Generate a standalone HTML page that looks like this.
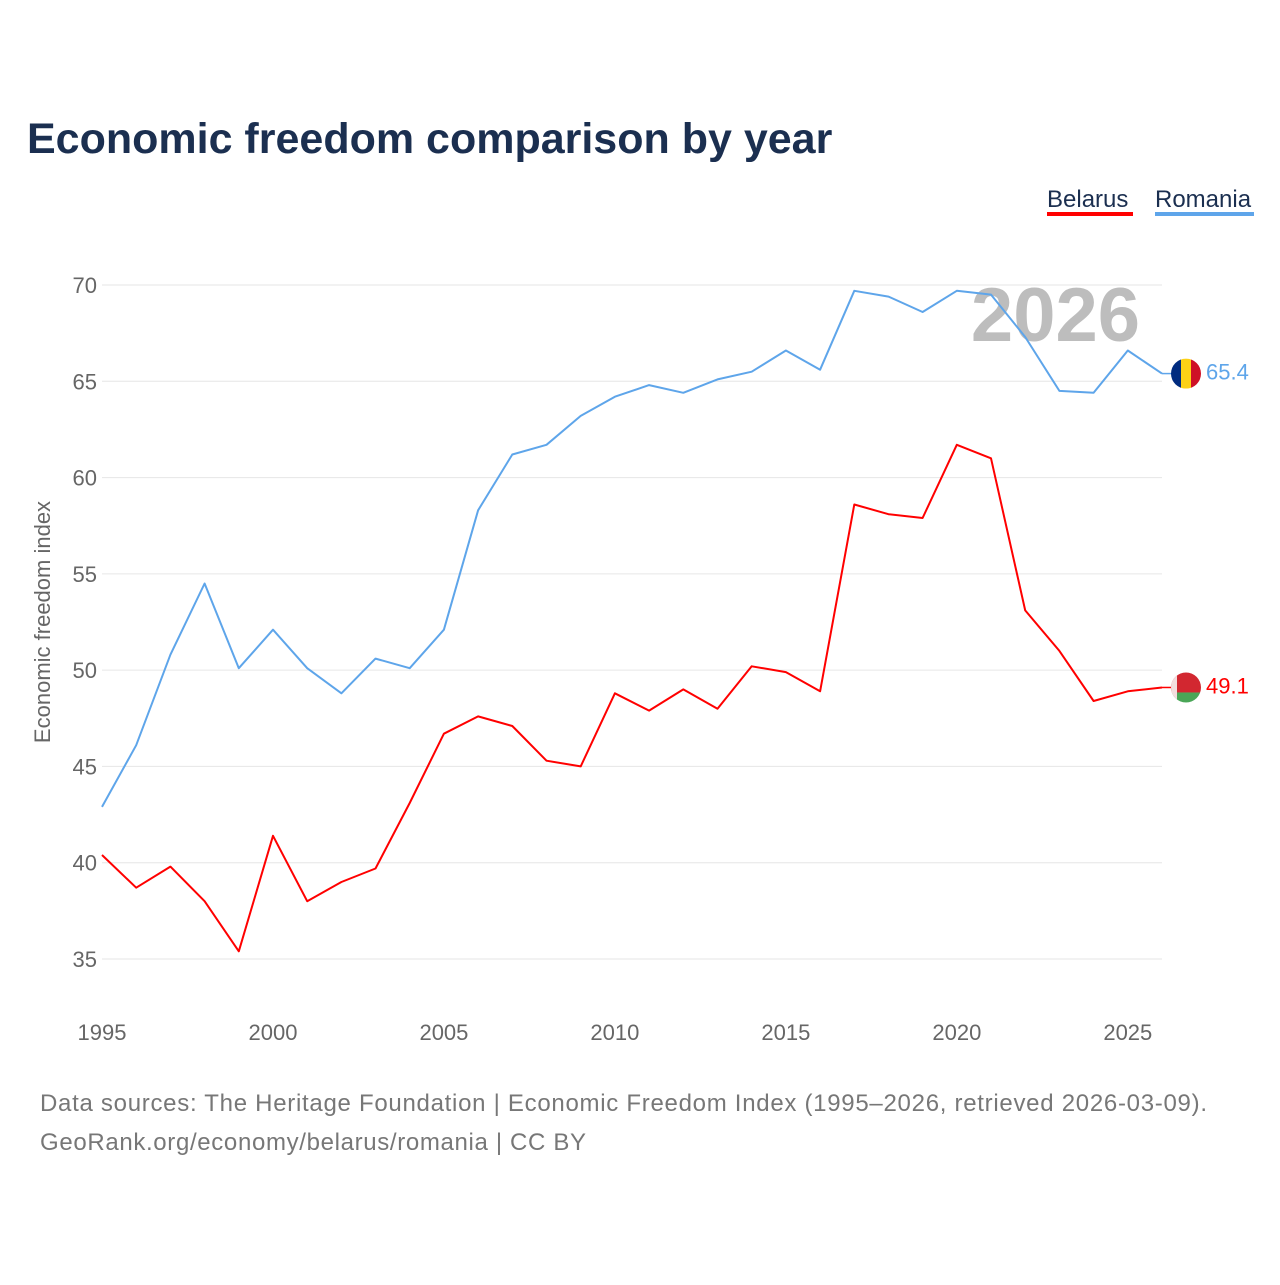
<!DOCTYPE html>
<html><head><meta charset="utf-8">
<style>
html,body{margin:0;padding:0;background:#fff;}
body{width:1280px;height:1280px;overflow:hidden;font-family:"Liberation Sans",sans-serif;}
</style></head>
<body>
<svg id="chart" width="1280" height="1280" xmlns="http://www.w3.org/2000/svg">
<text x="27" y="153" font-size="43" font-weight="bold" fill="#1b2f50">Economic freedom comparison by year</text>
<g>
<text x="1047" y="207" font-size="24" fill="#1b2f50">Belarus</text>
<rect x="1047" y="212" width="86" height="4" fill="#ff0000"/>
<text x="1155" y="207" font-size="24" fill="#1b2f50">Romania</text>
<rect x="1155" y="212" width="99" height="4" fill="#5ea5ea"/>
</g>
<text x="1140" y="341" text-anchor="end" font-size="76" font-weight="bold" fill="#bdbdbd">2026</text>
<g id="grid"></g>
<g id="series"></g>
<text transform="translate(50,622) rotate(-90)" text-anchor="middle" font-size="22" fill="#666">Economic freedom index</text>
<text x="40" y="1111" font-size="24" fill="#777" textLength="1167" lengthAdjust="spacing">Data sources: The Heritage Foundation | Economic Freedom Index (1995–2026, retrieved 2026-03-09).</text>
<text x="40" y="1150" font-size="24" fill="#777" textLength="546" lengthAdjust="spacing">GeoRank.org/economy/belarus/romania | CC BY</text>
</svg>
<script>
const years = [];
for (let y = 1995; y <= 2026; y++) years.push(y);
const romania = [42.9,46.1,50.8,54.5,50.1,52.1,50.1,48.8,50.6,50.1,52.1,58.3,61.2,61.7,63.2,64.2,64.8,64.4,65.1,65.5,66.6,65.6,69.7,69.4,68.6,69.7,69.5,67.3,64.5,64.4,66.6,65.4];
const belarus = [40.4,38.7,39.8,38.0,35.4,41.4,38.0,39.0,39.7,43.1,46.7,47.6,47.1,45.3,45.0,48.8,47.9,49.0,48.0,50.2,49.9,48.9,58.6,58.1,57.9,61.7,61.0,53.1,51.0,48.4,48.9,49.1];
const yTicks = [35,40,45,50,55,60,65,70];
const xTicks = [1995,2000,2005,2010,2015,2020,2025];

const NS = "http://www.w3.org/2000/svg";
const X0 = 102, X1 = 1162;
const xs = y => X0 + (y - 1995) * (X1 - X0) / (2026 - 1995);
const ys = v => 959 - (v - 35) * (959 - 285) / 35;
function mk(tag, attrs, parent){const e=document.createElementNS(NS,tag);for(const k in attrs)e.setAttribute(k,attrs[k]);parent.appendChild(e);return e;}
const grid = document.getElementById('grid');
yTicks.forEach(t=>{
  const l = mk('line',{x1:X0,x2:X1,y1:ys(t),y2:ys(t),stroke:'#e6e6e6','stroke-width':1},grid);
  
  
  const tx = mk('text',{x:97,y:ys(t)+8,'text-anchor':'end','font-size':22,fill:'#666'},grid);
  tx.textContent = t;
  
  
});
xTicks.forEach(t=>{
  const tx = mk('text',{x:xs(t),y:1040,'text-anchor':'middle','font-size':22,fill:'#666'},grid);
  tx.textContent = t;
  
  
});
const ser = document.getElementById('series');
function drawLine(vals,color,name){
  const d = vals.map((v,i)=>(i?'L':'M')+xs(years[i]).toFixed(1)+','+ys(v).toFixed(1)).join(' ');
  const p = mk('path',{d:d,fill:'none',stroke:color,'stroke-width':2,'stroke-linejoin':'round'},ser);
  
  
  const last = vals[vals.length-1];
  const ly = ys(last);
  mk('line',{x1:X1,x2:1176,y1:ly,y2:ly,stroke:color,'stroke-width':1.5},ser);
  const tx = mk('text',{x:1206,y:ly+6,'font-size':22,fill:color},ser);
  tx.textContent = last.toFixed(1);
  
  
  return ly;
}
const ry = drawLine(romania,'#5ea5ea','romania');
const by = drawLine(belarus,'#ff0000','belarus');
const defs = mk('defs',{},ser);
const c1 = mk('clipPath',{id:'cr'},defs); mk('circle',{cx:1186,cy:ry,r:15},c1);
const c2 = mk('clipPath',{id:'cb'},defs); mk('circle',{cx:1186,cy:by,r:15},c2);
const fr = mk('g',{'clip-path':'url(#cr)'},ser);


mk('rect',{x:1171,y:ry-15,width:10,height:30,fill:'#002b7f'},fr);
mk('rect',{x:1181,y:ry-15,width:10,height:30,fill:'#fcd116'},fr);
mk('rect',{x:1191,y:ry-15,width:10,height:30,fill:'#ce1126'},fr);
const fb = mk('g',{'clip-path':'url(#cb)'},ser);


mk('rect',{x:1171,y:by-15,width:30,height:20,fill:'#d22730'},fb);
mk('rect',{x:1171,y:by+5,width:30,height:10,fill:'#4aa657'},fb);
mk('rect',{x:1171,y:by-15,width:6,height:30,fill:'#f3dede'},fb);
</script>
</body></html>
